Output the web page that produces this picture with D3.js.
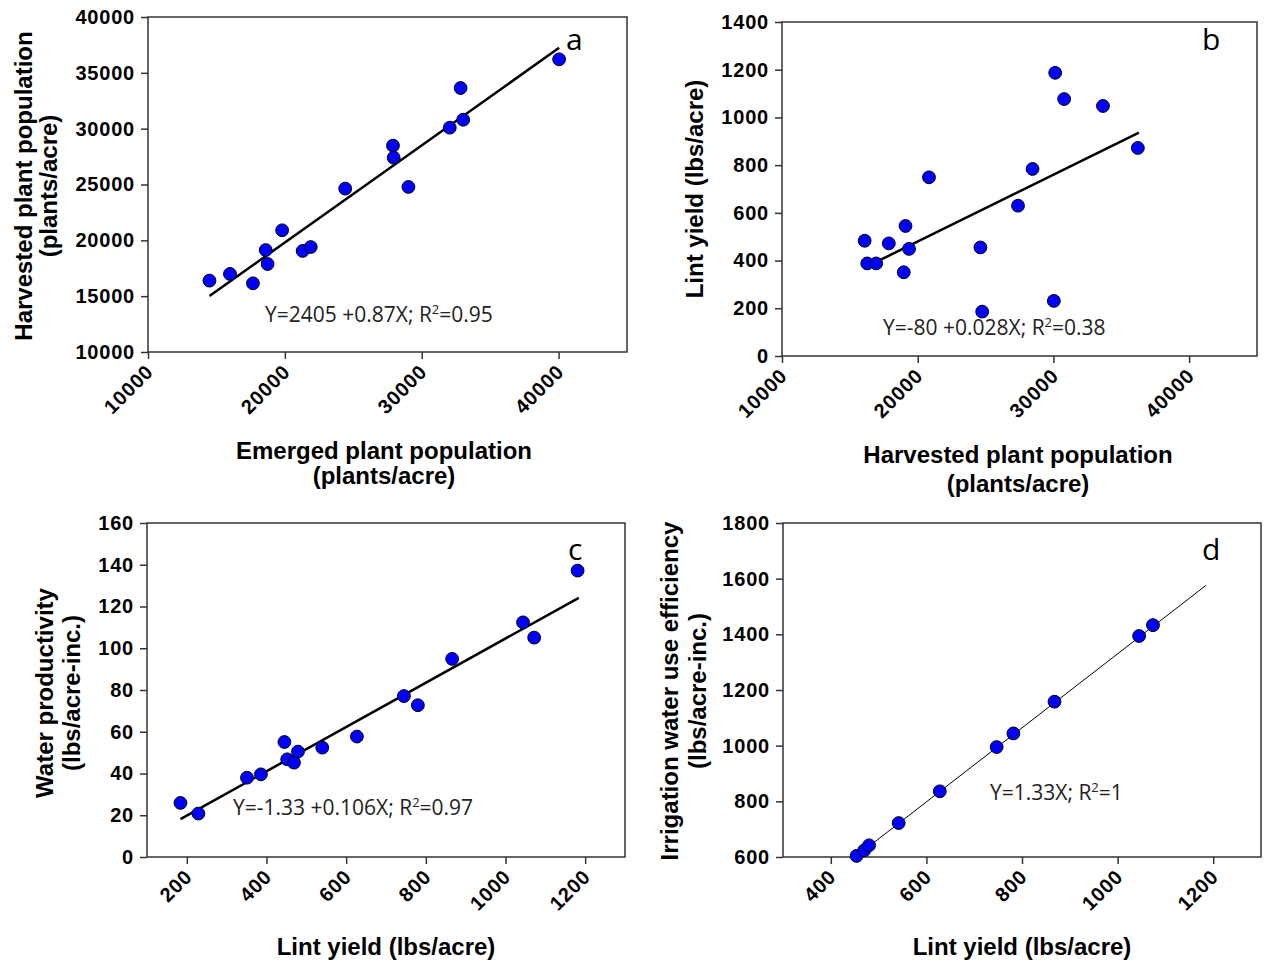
<!DOCTYPE html>
<html>
<head>
<meta charset="utf-8">
<script src="https://cdn.jsdelivr.net/npm/d3@7/dist/d3.min.js"></script>
<style>
  body { margin: 0; background: #fff; }
  .tick text { font-family: "Liberation Sans", Arial, sans-serif; font-weight: bold; font-size: 20px; letter-spacing: 0.8px; fill: #000; }
  .axis-title { font-family: "Liberation Sans", Arial, sans-serif; font-weight: bold; font-size: 24px; fill: #000; }
  .eq { font-family: "Open Sans", sans-serif; font-size: 21px; fill: #222; }
  .letter { font-family: "Open Sans", sans-serif; font-size: 30px; fill: #000; }
</style>
</head>
<body>
<script>
// ---- data ----
// panel a : emerged vs harvested plant population
const aEmerged   = [14490, 15990, 17670, 18600, 18740, 19800, 21300, 21890, 24410, 27900, 27950, 29030, 32050, 32840, 33030, 40040];
const aHarvested = [16390, 16990, 16150, 19130, 17880, 20900, 19050, 19400, 24630, 28480, 27400, 24780, 30090, 33640, 30800, 36210];
// panel b : harvested population vs lint yield
const bHarvested = [16090, 16280, 16940, 17870, 19100, 19360, 18970, 20830, 24620, 24750, 27390, 28460, 30030, 30130, 30790, 33650, 36220];
const bLint      = [483, 388, 388, 472, 545, 449, 351, 749, 455, 186, 630, 784, 231, 1187, 1077, 1048, 872];
// panel c : lint yield vs water productivity
const cLint = [184, 229, 351, 386, 445, 452, 469, 479, 540, 627, 745, 780, 866, 1044, 1072, 1181];
const cWP   = [25.9, 20.8, 38.0, 39.6, 55.1, 46.8, 45.2, 50.5, 52.4, 57.7, 77.1, 72.7, 94.9, 112.4, 105.1, 137.2];
// panel d : lint yield vs irrigation water use efficiency
const dLint = [454, 470, 480, 542, 628, 747, 782, 868, 1045, 1074];
const dIWUE = [604, 624, 642, 722, 836, 995, 1044, 1158, 1394, 1433];

// regression fits: [intercept, slope], and x span of the drawn line
const fitA = [2405, 0.87],  spanA = [14490, 40040];
const fitB = [-80, 0.028],  spanB = [16090, 36300];
const fitC = [-1.33, 0.106], spanC = [184, 1184];
const fitD = [0, 1.33],     spanD = [451, 1185];

// tick values
const popTicks  = [10000, 20000, 30000, 40000];
const aYTicks   = [10000, 15000, 20000, 25000, 30000, 35000, 40000];
const bYTicks   = [0, 200, 400, 600, 800, 1000, 1200, 1400];
const cXTicks   = [200, 400, 600, 800, 1000, 1200];
const cYTicks   = [0, 20, 40, 60, 80, 100, 120, 140, 160];
const dXTicks   = [400, 600, 800, 1000, 1200];
const dYTicks   = [600, 800, 1000, 1200, 1400, 1600, 1800];

const W = 1265, H = 964;
const svg = d3.select("body").append("svg")
    .attr("width", W)
    .attr("height", H);

const panels = [
  {
    xs: aEmerged, ys: aHarvested, fit: fitA, span: spanA, lw: 2.5,
    box: [148, 627, 17, 352], xDom: [10000, 45000], yDom: [10000, 40000],
    xTicks: popTicks, yTicks: aYTicks,
    eq: ["Y=2405 +0.87X; R", "=0.95"], eqPos: [265, 322],
    letter: "a", letterPos: [566, 50],
    xTitle: ["Emerged plant population", "(plants/acre)"], xTitlePos: [384, 459, 484],
    yTitle: ["Harvested plant population", "(plants/acre)"], yTitlePos: [186, 32, 57]
  },
  {
    xs: bHarvested, ys: bLint, fit: fitB, span: spanB, lw: 2.5,
    box: [782, 1257, 22, 356], xDom: [10000, 45000], yDom: [0, 1400],
    xTicks: popTicks, yTicks: bYTicks,
    eq: ["Y=-80 +0.028X; R", "=0.38"], eqPos: [883, 335],
    letter: "b", letterPos: [1202, 50],
    xTitle: ["Harvested plant population", "(plants/acre)"], xTitlePos: [1018, 463, 492],
    yTitle: ["Lint yield (lbs/acre)"], yTitlePos: [189, 703]
  },
  {
    xs: cLint, ys: cWP, fit: fitC, span: spanC, lw: 2.5,
    box: [147, 625, 523, 857], xDom: [100, 1300], yDom: [0, 160],
    xTicks: cXTicks, yTicks: cYTicks,
    eq: ["Y=-1.33 +0.106X; R", "=0.97"], eqPos: [233, 815],
    letter: "c", letterPos: [568, 560],
    xTitle: ["Lint yield (lbs/acre)"], xTitlePos: [386, 955],
    yTitle: ["Water productivity", "(lbs/acre-inc.)"], yTitlePos: [693, 53, 80]
  },
  {
    xs: dLint, ys: dIWUE, fit: fitD, span: spanD, lw: 1,
    box: [783, 1261, 523, 857], xDom: [300, 1300], yDom: [600, 1800],
    xTicks: dXTicks, yTicks: dYTicks,
    eq: ["Y=1.33X; R", "=1"], eqPos: [990, 800],
    letter: "d", letterPos: [1202, 560],
    xTitle: ["Lint yield (lbs/acre)"], xTitlePos: [1022, 955],
    yTitle: ["Irrigation water use efficiency", "(lbs/acre-inc.)"], yTitlePos: [691, 678, 706]
  }
];

panels.forEach(drawPanel);

function drawPanel(p) {
  const [x0, x1, y0, y1] = p.box;
  const x = d3.scaleLinear().domain(p.xDom).range([x0, x1]);
  const y = d3.scaleLinear().domain(p.yDom).range([y1, y0]);
  const g = svg.append("g");

  // frame
  g.append("rect")
    .attr("x", x0).attr("y", y0)
    .attr("width", x1 - x0).attr("height", y1 - y0)
    .attr("fill", "none").attr("stroke", "#333").attr("stroke-width", 1.5);

  // y axis
  const ya = g.append("g")
    .attr("transform", `translate(${x0},0)`)
    .call(d3.axisLeft(y).tickValues(p.yTicks).tickFormat(d3.format("d")).tickSize(7).tickSizeOuter(0).tickPadding(6));
  ya.select(".domain").remove();
  ya.selectAll(".tick line").attr("stroke", "#333").attr("stroke-width", 1.5);

  // x axis, rotated labels
  const xa = g.append("g")
    .attr("transform", `translate(0,${y1})`)
    .call(d3.axisBottom(x).tickValues(p.xTicks).tickFormat(d3.format("d")).tickSize(7).tickSizeOuter(0));
  xa.select(".domain").remove();
  xa.selectAll(".tick line").attr("stroke", "#333").attr("stroke-width", 1.5);
  xa.selectAll(".tick text")
    .attr("x", 0).attr("y", 0).attr("dy", 0)
    .attr("text-anchor", "end")
    .attr("transform", "translate(6,21) rotate(-45)");

  // regression line
  const line = d3.line().x(d => x(d)).y(d => y(p.fit[0] + p.fit[1] * d));
  g.append("path")
    .datum(p.span)
    .attr("d", line)
    .attr("fill", "none")
    .attr("stroke", "#000")
    .attr("stroke-width", p.lw);

  // points
  g.selectAll("circle")
    .data(p.xs.map((v, i) => [v, p.ys[i]]))
    .enter().append("circle")
    .attr("cx", d => x(d[0]))
    .attr("cy", d => y(d[1]))
    .attr("r", 6.4)
    .attr("fill", "#0000ff")
    .attr("stroke", "#000")
    .attr("stroke-width", 1);

  // equation
  const eq = g.append("text").attr("class", "eq")
    .attr("x", p.eqPos[0]).attr("y", p.eqPos[1]);
  eq.append("tspan").text(p.eq[0]);
  eq.append("tspan").attr("dy", -8).attr("font-size", "13px").text("2");
  eq.append("tspan").attr("dy", 8).text(p.eq[1]);

  g.append("text").attr("class", "letter")
    .attr("x", p.letterPos[0]).attr("y", p.letterPos[1])
    .text(p.letter);

  // x title
  p.xTitle.forEach((t, i) => {
    g.append("text").attr("class", "axis-title")
      .attr("x", p.xTitlePos[0]).attr("y", p.xTitlePos[i + 1])
      .attr("text-anchor", "middle")
      .text(t);
  });

  // y title
  p.yTitle.forEach((t, i) => {
    g.append("text").attr("class", "axis-title")
      .attr("text-anchor", "middle")
      .attr("transform", `translate(${p.yTitlePos[i + 1]},${p.yTitlePos[0]}) rotate(-90)`)
      .text(t);
  });
}
</script>
</body>
</html>
